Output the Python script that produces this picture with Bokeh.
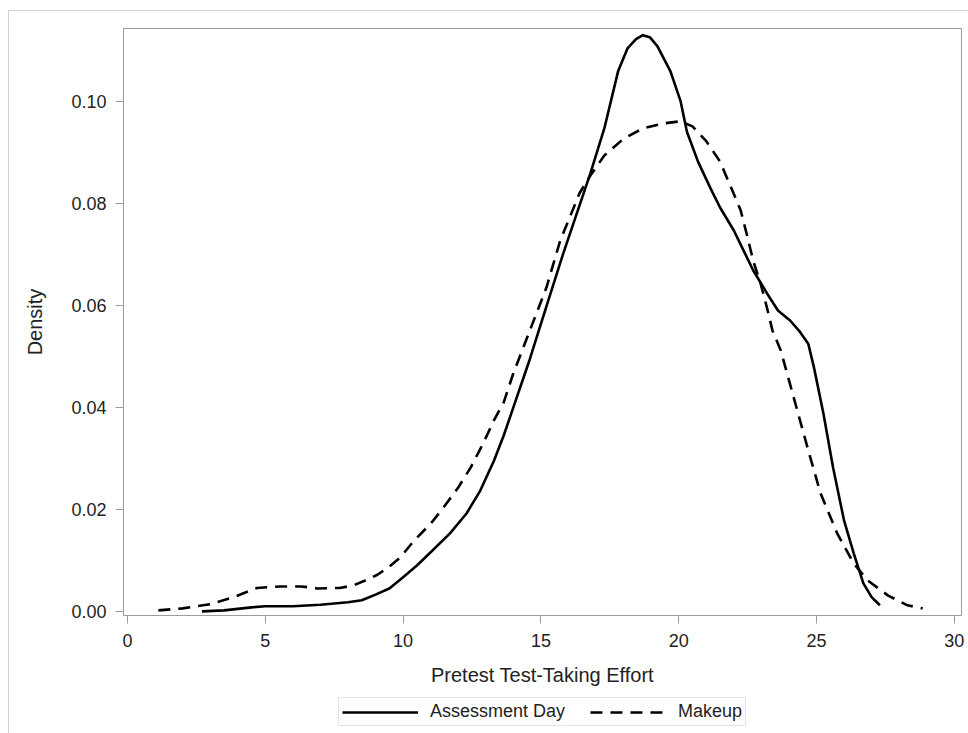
from bokeh.plotting import figure
from bokeh.layouts import column
from bokeh.models import Legend, LegendItem, FixedTicker, PrintfTickFormatter, Range1d
from bokeh.embed import file_html
from bokeh.resources import INLINE

# Kernel density estimates
assess_x = [2.7, 3.5, 4.5, 5.0, 6.0, 7.0, 8.0, 8.5, 9.0, 9.5, 10.0, 10.5, 11.0, 11.7,
            12.3, 12.8, 13.3, 13.65, 14.0, 14.6, 15.2, 15.8, 16.3, 16.8, 17.3, 17.8,
            18.14, 18.45, 18.7, 18.95, 19.23, 19.7, 20.07, 20.3, 20.7, 21.15, 21.5,
            22.0, 22.35, 22.7, 23.2, 23.6, 24.05, 24.4, 24.7, 24.9, 25.25, 25.6, 26.0,
            26.35, 26.7, 27.0, 27.3]
assess_y = [0.0, 0.0002, 0.0008, 0.001, 0.001, 0.0013, 0.0018, 0.0022, 0.0033, 0.0045,
            0.0067, 0.009, 0.0116, 0.0153, 0.0192, 0.0237, 0.0296, 0.0345, 0.0400,
            0.0495, 0.0598, 0.0700, 0.0780, 0.0860, 0.0947, 0.1059, 0.1104, 0.1122,
            0.1130, 0.1126, 0.1108, 0.1059, 0.100, 0.094, 0.0882, 0.083, 0.0792,
            0.0747, 0.0708, 0.0669, 0.0624, 0.059, 0.057, 0.0548, 0.0525, 0.048,
            0.0388, 0.0282, 0.0178, 0.0114, 0.0055, 0.0028, 0.0012]

makeup_x = [1.12, 2.0, 3.0, 3.85, 4.7, 5.55, 6.3, 6.9, 7.7, 8.2, 8.6, 9.07, 9.5, 9.9,
            10.4, 11.0, 11.47, 12.0, 12.45, 12.9, 13.3, 13.65, 14.0, 14.6, 15.2, 15.7,
            16.1, 16.4, 16.8, 17.3, 18.0, 18.7, 19.45, 20.07, 20.5, 21.0, 21.5, 21.9,
            22.25, 22.5, 22.7, 22.97, 23.2, 23.4, 23.7, 24.2, 24.7, 25.15, 25.75,
            26.35, 26.85, 27.6, 28.3, 28.85]
makeup_y = [0.0002, 0.0006, 0.0014, 0.0028, 0.0046, 0.0049, 0.0049, 0.0045, 0.0046,
            0.0051, 0.006, 0.0072, 0.0088, 0.0106, 0.0139, 0.0172, 0.0204, 0.0243,
            0.0282, 0.0329, 0.0375, 0.041, 0.0467, 0.0551, 0.0635, 0.0727, 0.078,
            0.082, 0.0855, 0.0894, 0.0927, 0.0947, 0.0957, 0.0961, 0.0951, 0.0922,
            0.0882, 0.0831, 0.0786, 0.0733, 0.0688, 0.0643, 0.0596, 0.0551, 0.0512,
            0.0414, 0.0316, 0.0231, 0.0153, 0.0094, 0.0061, 0.0031, 0.0012, 0.0006]

series_names = ["Assessment Day", "Makeup"]
x_ticks = [0, 5, 10, 15, 20, 25, 30]
y_ticks = [0.00, 0.02, 0.04, 0.06, 0.08, 0.10]
x_title = "Pretest Test-Taking Effort"
y_title = "Density"

FONT = "Liberation Sans"
TEXT = "#222222"
GRAY = "#9c9c9c"
SOLID = dict(line_color="black", line_width=2.6, line_join="round")
DASHED = dict(line_color="black", line_width=2.6, line_dash="12 8")

# ---- main plot ----
p = figure(width=959, height=684,
           x_range=Range1d(-0.145, 30.26), y_range=Range1d(-0.0008, 0.1143),
           output_backend="svg", toolbar_location=None,
           min_border_left=114, min_border_right=7, min_border_top=17, min_border_bottom=80)

p.background_fill_color = "white"
p.border_fill_color = "white"
p.outline_line_color = GRAY
p.outline_line_width = 1
p.xgrid.visible = False
p.ygrid.visible = False

p.line(assess_x, assess_y, **SOLID)
p.line(makeup_x, makeup_y, **DASHED)

for ax in (p.xaxis[0], p.yaxis[0]):
    ax.axis_line_color = GRAY
    ax.major_tick_line_color = GRAY
    ax.major_tick_out = 8
    ax.major_tick_in = 0
    ax.minor_tick_line_color = None
    ax.major_label_text_font = FONT
    ax.major_label_text_font_size = "18px"
    ax.major_label_text_color = TEXT
    ax.axis_label_text_font = FONT
    ax.axis_label_text_font_size = "20px"
    ax.axis_label_text_font_style = "normal"
    ax.axis_label_text_color = TEXT

p.xaxis.ticker = FixedTicker(ticks=x_ticks)
p.yaxis.ticker = FixedTicker(ticks=y_ticks)
p.yaxis.formatter = PrintfTickFormatter(format="%.2f")
p.xaxis.axis_label = x_title
p.yaxis.axis_label = y_title
p.xaxis.major_label_standoff = 10
p.xaxis.axis_label_standoff = 14
p.yaxis.major_label_standoff = 9
p.yaxis.axis_label_standoff = 22

# ---- legend strip below the plot (same series, y range set above the data so
#      only the legend shows) ----
q = figure(width=959, height=38, x_range=Range1d(-0.145, 30.26), y_range=Range1d(1, 2),
           output_backend="svg", toolbar_location=None,
           x_axis_location=None, y_axis_location=None,
           min_border_left=114, min_border_right=7, min_border_top=0, min_border_bottom=0)
q.outline_line_color = None
q.xgrid.visible = False
q.ygrid.visible = False
q.background_fill_color = "white"
q.border_fill_color = "white"

l1 = q.line(assess_x, assess_y, **SOLID)
l2 = q.line(makeup_x, makeup_y, **DASHED)

legend = Legend(items=[LegendItem(label=series_names[0], renderers=[l1]),
                       LegendItem(label=series_names[1], renderers=[l2])],
                orientation="horizontal", location="top_center")
legend.border_line_color = "#c8c8c8"
legend.border_line_width = 1
legend.background_fill_alpha = 1.0
legend.label_text_font = FONT
legend.label_text_font_size = "18px"
legend.label_text_color = TEXT
legend.glyph_width = 76
legend.glyph_height = 16
legend.label_height = 16
legend.label_standoff = 12
legend.spacing = 25
legend.padding = 3
legend.margin = 2
q.add_layout(legend)

layout = column(p, q, spacing=0,
                styles={"margin-left": "8px", "margin-top": "10px",
                        "border-left": "1px solid #d2d2d2", "border-top": "1px solid #d2d2d2"})

open("out.html", "w").write(file_html(layout, INLINE))
